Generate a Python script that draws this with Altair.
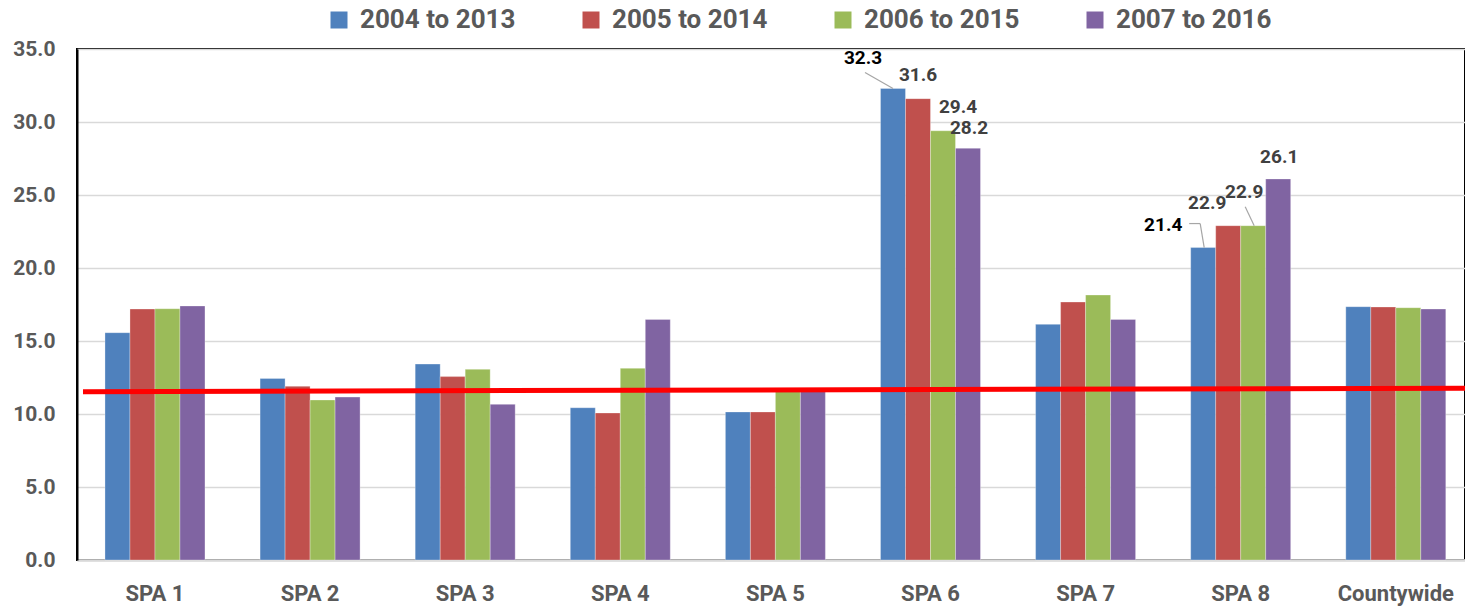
import altair as alt
import pandas as pd

categories = ["SPA 1", "SPA 2", "SPA 3", "SPA 4", "SPA 5", "SPA 6", "SPA 7", "SPA 8", "Countywide"]
series = ["2004 to 2013", "2005 to 2014", "2006 to 2015", "2007 to 2016"]
v2004 = [15.57, 12.44, 13.42, 10.43, 10.14, 32.3, 16.14, 21.4, 17.35]
v2005 = [17.19, 11.90, 12.56, 10.07, 10.14, 31.6, 17.67, 22.9, 17.33]
v2006 = [17.21, 10.96, 13.06, 13.13, 11.60, 29.4, 18.15, 22.9, 17.28]
v2007 = [17.40, 11.16, 10.66, 16.48, 11.70, 28.2, 16.48, 26.1, 17.19]
colors = ["#4F81BD", "#C0504D", "#9BBB59", "#8064A2"]
trend_values = [11.53, 11.77]

FONT = "Roboto, sans-serif"
W, H = 1388, 511
N = len(categories)
PAD_IN = 0.3553
PAD_OUT = 0.1521
ALIGN = 0.593
STEP = W / (N - PAD_IN + 2 * PAD_OUT)
START = (W - STEP * (N - PAD_IN)) * ALIGN
BAND = STEP * (1 - PAD_IN)
PX_PER_UNIT = H / 35.0

rows = []
for i, c in enumerate(categories):
    for j, (s, vals) in enumerate(zip(series, [v2004, v2005, v2006, v2007])):
        rows.append({"category": c, "series": s, "value": vals[i]})
df = pd.DataFrame(rows)

y_scale = alt.Scale(domain=[0, 35], nice=False, zero=True)
x_scale = alt.Scale(paddingInner=PAD_IN, paddingOuter=PAD_OUT, align=ALIGN)
off_scale = alt.Scale(paddingInner=0, paddingOuter=0)

x_axis = alt.Axis(labelAngle=0, labelFont=FONT, labelFontSize=22, labelFontWeight="bold",
                  labelColor="#595959", labelPadding=23, ticks=False,
                  domainColor="#D9D9D9", domainWidth=2.5, grid=False, title=None)
y_axis = alt.Axis(values=[0, 5, 10, 15, 20, 25, 30, 35], format=".1f", labelFont=FONT,
                  labelFontSize=21, labelFontWeight="bold", labelColor="#595959",
                  labelPadding=22, ticks=False, domainColor="black", domainWidth=2,
                  gridColor="#D9D9D9", gridWidth=1.5, title=None)

X = alt.X("category:N", sort=categories, scale=x_scale, axis=x_axis)
XO = alt.XOffset("series:N", sort=series, scale=off_scale)

bars = alt.Chart(df).mark_bar(stroke="white", strokeWidth=0.6, strokeOpacity=0.5).encode(
    x=X,
    xOffset=XO,
    y=alt.Y("value:Q", scale=y_scale, axis=y_axis),
    color=alt.Color("series:N", sort=series, scale=alt.Scale(domain=series, range=colors),
                    legend=alt.Legend(title=None, orient="none", legendX=249, legendY=-42,
                                      direction="horizontal", columns=4, symbolType="square",
                                      symbolSize=289, symbolStrokeWidth=0, labelFont=FONT,
                                      labelFontSize=26, labelFontWeight="bold",
                                      labelColor="#595959", labelOffset=8, columnPadding=62,
                                      padding=0, labelLimit=400)),
)

# label offsets (px) from bar-top centre, and text colour
label_style = {
    ("SPA 6", series[0]): (-30, -30, "#000000"),
    ("SPA 6", series[1]): (0, -24, "#404040"),
    ("SPA 6", series[2]): (15, -24, "#404040"),
    ("SPA 6", series[3]): (1, -20, "#404040"),
    ("SPA 8", series[0]): (-40, -23, "#000000"),
    ("SPA 8", series[1]): (-21, -23, "#404040"),
    ("SPA 8", series[2]): (-9, -34, "#404040"),
    ("SPA 8", series[3]): (1, -22, "#404040"),
}

texts = []
for (c, s), (dx, dy, col) in label_style.items():
    t = alt.Chart(df).transform_filter(
        (alt.datum.category == c) & (alt.datum.series == s)
    ).mark_text(dx=dx, dy=dy, baseline="middle", align="center", font=FONT, fontSize=19,
                fontWeight="bold", color=col).encode(
        x=X,
        xOffset=XO,
        y=alt.Y("value:Q", scale=y_scale, axis=y_axis),
        text=alt.Text("value:Q", format=".1f"),
    )
    texts.append(t)

band_layer = alt.layer(bars, *texts)

# leader lines: pixel offsets from bar-top centre
leaders = [
    ("SPA 6", 0, [(0, 0), (-28, -16)]),
    ("SPA 8", 0, [(1, 0), (-3, -24)]),
    ("SPA 8", 0, [(-3, -24), (-14, -24)]),
    ("SPA 8", 2, [(1, 0), (-8, -19)]),
]
vals_by_series = [v2004, v2005, v2006, v2007]
seg_rows = []
for c, j, ((ax, ay), (bx, by)) in leaders:
    i = categories.index(c)
    cx = START + i * STEP + (j + 0.5) * BAND / len(series)
    top = vals_by_series[j][i]
    seg_rows.append({"qx": cx + ax, "qy": top - ay / PX_PER_UNIT,
                     "qx2": cx + bx, "qy2": top - by / PX_PER_UNIT})
seg_df = pd.DataFrame(seg_rows)

q_x = alt.Scale(domain=[0, W], nice=False, zero=False)
leader_layer = alt.Chart(seg_df).mark_rule(color="#A6A6A6", strokeWidth=1.2).encode(
    x=alt.X("qx:Q", scale=q_x, axis=None),
    x2="qx2:Q",
    y=alt.Y("qy:Q", scale=y_scale, axis=y_axis),
    y2="qy2:Q",
)

trend_df = pd.DataFrame({"qx": [6], "qx2": [W + 8],
                         "qy": [trend_values[0]], "qy2": [trend_values[1]]})
trend_layer = alt.Chart(trend_df).mark_rule(color="#FF0000", strokeWidth=5).encode(
    x=alt.X("qx:Q", scale=q_x, axis=None),
    x2="qx2:Q",
    y=alt.Y("qy:Q", scale=y_scale, axis=y_axis),
    y2="qy2:Q",
)

chart = alt.layer(band_layer, leader_layer, trend_layer).resolve_scale(
    x="independent"
).properties(
    width=W, height=H,
    padding={"left": 69, "top": 41, "right": 0, "bottom": 48},
    autosize=alt.AutoSizeParams(type="none"),
).configure_view(stroke="black", strokeWidth=2)

chart.save("out.html", embed_options={"renderer": "svg", "actions": False})
